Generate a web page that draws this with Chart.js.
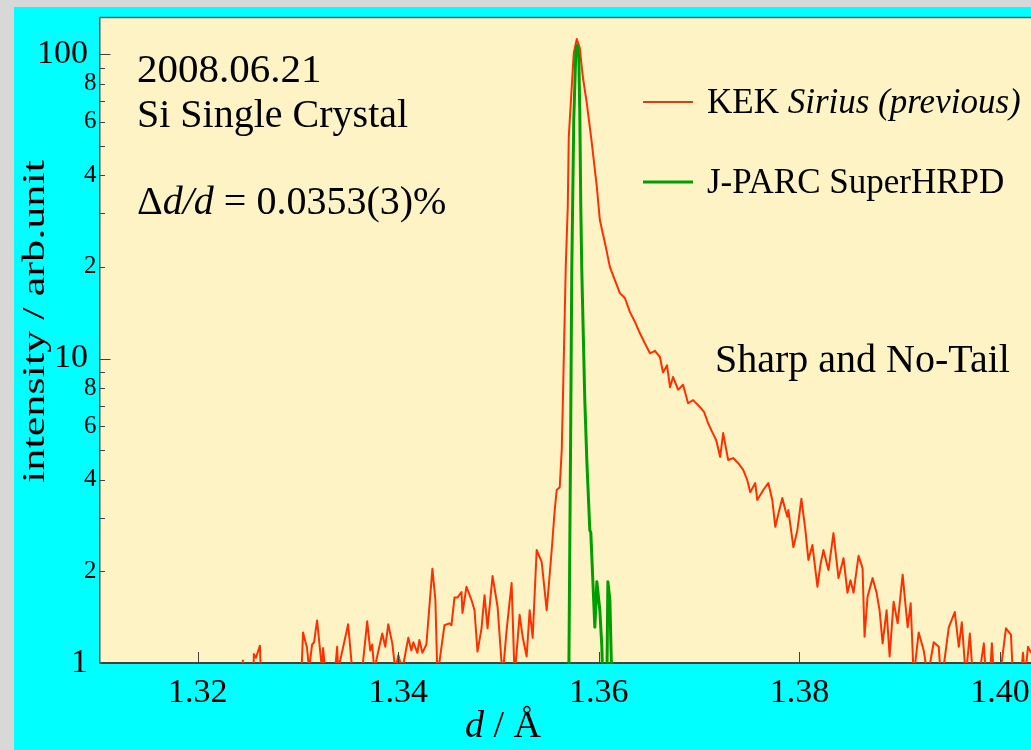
<!DOCTYPE html>
<html><head><meta charset="utf-8">
<script src="https://cdn.jsdelivr.net/npm/chart.js@4/dist/chart.umd.min.js"></script>
<style>
html,body{margin:0;padding:0;width:1031px;height:750px;overflow:hidden;background:#d8d8d8;}
#panel{position:absolute;left:14px;top:7px;width:1017px;height:743px;background:#00ffff;}
canvas{display:block}
</style></head><body>
<div id="panel"><canvas id="c" width="1017" height="743"></canvas></div>
<script>
// ---- data ----
const xTicks = [1.32, 1.34, 1.36, 1.38, 1.40];
const yTicks = [1,2,3,4,5,6,7,8,9,10,20,30,40,50,60,70,80,90,100];
const yMajor = [1, 10, 100];
const yLabeled = [2,4,6,8,20,40,60,80];
const seriesNames = ['KEK Sirius (previous)', 'J-PARC SuperHRPD'];

const redD = [1.3102,1.3240,1.3245,1.3248,1.3254,1.3256,1.3258,1.3262,1.3264,1.3302,
1.3305,1.3309,1.3311,1.3314,1.3316,1.3319,1.3322,1.3324,1.3325,1.3327,
1.3337,1.3339,1.3340,1.3350,1.3352,1.3354,1.3364,1.3369,1.3372,1.3374,
1.3376,1.3384,1.3387,1.3390,1.3394,1.3397,1.3400,1.3404,1.3410,1.3413,
1.3415,1.3419,1.3421,1.3424,1.3428,1.3434,1.3437,1.3439,1.3446,1.3451,
1.3453,1.3456,1.3459,1.3463,1.3464,1.3468,1.3473,1.3476,1.3479,1.3483,
1.3486,1.3489,1.3494,1.3499,1.3504,1.3508,1.3513,1.3516,1.3521,1.3524,
1.3528,1.3531,1.3534,1.3538,1.3543,1.3548,1.3553,1.3556,1.3558,1.3561,
1.3563,1.3564,1.3567,1.3569,1.3570,1.3573,1.3575,1.3578,1.3581,1.3584,
1.3588,1.3593,1.3598,1.3601,1.3607,1.3611,1.3616,1.3621,1.3626,1.3631,
1.3636,1.3641,1.3646,1.3651,1.3656,1.3661,1.3664,1.3668,1.3671,1.3674,
1.3679,1.3684,1.3689,1.3694,1.3701,1.3705,1.3709,1.3713,1.3717,1.3721,
1.3724,1.3729,1.3734,1.3739,1.3744,1.3748,1.3751,1.3756,1.3758,1.3764,
1.3769,1.3773,1.3776,1.3780,1.3783,1.3786,1.3788,1.3789,1.3794,1.3798,
1.3802,1.3806,1.3809,1.3813,1.3818,1.3821,1.3824,1.3829,1.3834,1.3839,
1.3844,1.3848,1.3851,1.3854,1.3859,1.3863,1.3865,1.3868,1.3873,1.3877,
1.3880,1.3883,1.3887,1.3890,1.3894,1.3898,1.3903,1.3906,1.3908,1.3911,
1.3914,1.3919,1.3924,1.3928,1.3934,1.3939,1.3941,1.3944,1.3949,1.3955,
1.3959,1.3962,1.3966,1.3970,1.3973,1.3979,1.3984,1.3986,1.3990,1.3992,
1.3994,1.4000,1.4006,1.4011,1.4013,1.4021,1.4023,1.4025,1.4028,1.4031];
const redI = [0.5,0.6,1.02,0.6,0.7,1.07,1.04,1.14,0.7,0.7,
1.26,1.12,0.95,1.15,1.17,1.38,1.10,0.95,1.12,0.95,
0.95,1.13,0.95,1.34,1.13,0.95,0.95,1.37,1.10,1.15,
0.95,1.25,1.13,1.34,1.16,0.95,1.06,0.95,1.21,1.10,
1.17,1.08,1.19,1.08,1.15,2.04,1.61,0.9,1.33,1.35,
1.33,1.64,1.64,1.71,1.46,1.78,1.61,1.49,1.09,1.30,
1.67,1.30,1.93,1.53,0.9,1.28,1.83,0.9,1.44,1.22,
1.05,1.49,1.21,2.35,2.15,1.49,2.35,3.18,3.70,3.78,
5.0,6.92,20.0,31.4,53.3,78.2,100.7,112,104.6,84.2,
69.0,51.0,36.6,28.5,23.2,20.0,18.1,16.4,15.8,14.2,
13.2,12.1,11.2,10.4,10.6,10.1,9.0,9.5,8.05,8.7,
7.9,8.2,7.13,7.3,6.92,6.67,6.13,5.74,5.40,4.75,
5.69,4.64,4.71,4.53,4.31,3.99,3.64,3.90,3.43,3.70,
3.90,3.43,2.80,3.18,3.48,3.18,3.02,3.18,2.40,2.73,
3.46,2.73,2.18,2.44,1.78,2.10,2.35,2.02,2.67,1.90,
2.21,1.70,1.87,1.70,2.25,2.05,1.22,1.65,1.90,1.70,
1.49,1.16,1.49,1.05,1.59,1.35,1.95,1.53,1.31,1.57,
0.9,1.26,1.10,0.9,1.17,1.13,0.9,0.98,1.31,1.47,
1.13,1.36,0.9,1.25,0.9,0.9,1.16,0.9,0.9,1.16,
0.9,0.9,1.30,1.24,0.9,0.9,1.08,0.9,1.13,1.08];

const greenD = [1.3102,1.3561,1.3570,1.3571,1.3572,1.3573,1.3575,1.3576,1.3577,1.3578,
1.3579,1.3580,1.3581,1.3582,1.3583,1.3586,1.3588,1.3591,1.3592,1.3594,
1.3596,1.3597,1.3598,1.3601,1.3603,1.3604,1.3607,1.3608,1.3609,1.3611,
1.3613,1.3621,1.4031];
const greenI = [0.5,0.5,0.85,2.35,6.28,19.5,60.8,78.2,100.7,106.9,
104.6,97.9,64.2,31.4,19.5,7.3,4.64,2.73,2.68,1.87,
1.31,1.53,1.85,1.49,1.13,0.85,0.7,0.85,1.85,1.61,
0.85,0.5,0.5];

// ---- text ----
const noteDate = '2008.06.21';
const noteSample = 'Si Single Crystal';
const noteRes = [['\u0394','normal'],['d/d','italic'],[' = 0.0353(3)%','normal']];
const noteSharp = 'Sharp and No-Tail';
const legendRuns = [[['KEK ','normal'],['Sirius (previous)','italic']], [['J-PARC SuperHRPD','normal']]];
const xTitle = [['d','italic'],[' / \u00C5','normal']];
const yTitle = 'intensity / arb.unit';

const FONT = '"Liberation Serif", "Times New Roman", serif';
const COLORS = ['#ff3000', '#009f00'];

const red = redD.map((d, i) => ({x: d, y: redI[i]}));
const green = greenD.map((d, i) => ({x: d, y: greenI[i]}));

function drawRuns(ctx, x, y, parts, size) {
  let cx = x;
  parts.forEach(([t, st]) => {
    ctx.font = (st === 'italic' ? 'italic ' : '') + size + 'px ' + FONT;
    ctx.fillText(t, cx, y);
    cx += ctx.measureText(t).width;
  });
}

const deco = {
  id: 'deco',
  beforeDraw(chart) {
    const {ctx, chartArea: a} = chart;
    ctx.save();
    ctx.fillStyle = '#fdf3c5';
    ctx.fillRect(a.left, a.top, a.right - a.left, a.bottom - a.top);
    ctx.restore();
  },
  afterDraw(chart) {
    const ctx = chart.ctx, a = chart.chartArea, xs = chart.scales.x, ys = chart.scales.y;
    ctx.save();
    // top frame
    ctx.strokeStyle = '#4b6464'; ctx.lineWidth = 1.5;
    ctx.beginPath(); ctx.moveTo(a.left, a.top); ctx.lineTo(a.right, a.top); ctx.stroke();
    // inward ticks
    ctx.strokeStyle = '#404040'; ctx.lineWidth = 1;
    ys.ticks.forEach(t => {
      const p = Math.round(ys.getPixelForValue(t.value)) + 0.5;
      const len = yMajor.includes(t.value) ? 11 : 5.5;
      ctx.beginPath(); ctx.moveTo(a.left, p); ctx.lineTo(a.left + len, p); ctx.stroke();
    });
    xs.ticks.forEach(t => {
      const p = Math.round(xs.getPixelForValue(t.value)) + 0.5;
      ctx.beginPath(); ctx.moveTo(p, a.bottom); ctx.lineTo(p, a.bottom - 11); ctx.stroke();
    });
    // annotations
    ctx.fillStyle = '#000';
    ctx.textAlign = 'left'; ctx.textBaseline = 'alphabetic';
    drawRuns(ctx, 123, 75, [[noteDate, 'normal']], 41);
    drawRuns(ctx, 123, 120, [[noteSample, 'normal']], 40);
    drawRuns(ctx, 123, 207, noteRes, 40);
    drawRuns(ctx, 701, 365, [[noteSharp, 'normal']], 40);
    // legend
    const ly = [95, 175];
    chart.data.datasets.forEach((ds, i) => {
      ctx.strokeStyle = i === 0 ? '#e03a16' : ds.borderColor; ctx.lineWidth = i === 0 ? 2 : 3;
      ctx.beginPath(); ctx.moveTo(629, ly[i]); ctx.lineTo(679, ly[i]); ctx.stroke();
      ctx.fillStyle = '#000';
      drawRuns(ctx, 693, ly[i] + 11, legendRuns[i], 35);
    });
    // axis titles
    drawRuns(ctx, 451, 730, xTitle, 38);
    ctx.font = '32px ' + FONT;
    const w = ctx.measureText(yTitle).width;
    ctx.translate(29.5, 314.5);
    ctx.rotate(-Math.PI / 2);
    ctx.scale(323 / w, 1);
    ctx.textAlign = 'center';
    ctx.fillText(yTitle, 0, 0);
    ctx.restore();
  }
};

new Chart(document.getElementById('c'), {
  type: 'line',
  data: {
    datasets: [
      {label: seriesNames[0], data: red, borderColor: COLORS[0], borderWidth: 2, pointRadius: 0,
       tension: 0, order: 2, clip: 0, borderJoinStyle: 'round', fill: false},
      {label: seriesNames[1], data: green, borderColor: COLORS[1], borderWidth: 3, pointRadius: 0,
       tension: 0, order: 1, clip: 0, borderJoinStyle: 'round', fill: false}
    ]
  },
  options: {
    responsive: false, animation: false, devicePixelRatio: 1, events: [],
    layout: {padding: {top: 10.5, right: 0, bottom: 0, left: 0}},
    plugins: {legend: {display: false}, tooltip: {enabled: false}, title: {display: false}},
    scales: {
      x: {
        type: 'linear', min: 1.3102, max: 1.4031,
        grid: {display: false, drawTicks: false},
        border: {display: true, color: '#384444', width: 2},
        afterBuildTicks: s => { s.ticks = xTicks.map(v => ({value: v})); },
        afterFit: s => { s.height = 87; s.paddingLeft = 0; s.paddingRight = 0; },
        ticks: {padding: 10, color: '#000', autoSkip: false, maxRotation: 0,
                font: {family: FONT, size: 34},
                callback: v => Number(v).toFixed(2)}
      },
      y: {
        type: 'logarithmic', min: 1, max: 131.8,
        grid: {display: false, drawTicks: false},
        border: {display: true, color: '#3f5a5a', width: 1.5},
        afterBuildTicks: s => { s.ticks = yTicks.map(v => ({value: v})); },
        afterFit: s => { s.width = 85.5; s.paddingTop = 0; s.paddingBottom = 0; },
        ticks: {padding: 3, color: '#000', autoSkip: false,
                font: c => ({family: FONT, size: (c.tick && yMajor.includes(c.tick.value)) ? 34 : 25}),
                callback: v => yMajor.includes(v) ? String(v) + ' ' : (yLabeled.includes(v) ? String(v).charAt(0) : '')}
      }
    }
  },
  plugins: [deco]
});
</script>
</body></html>
